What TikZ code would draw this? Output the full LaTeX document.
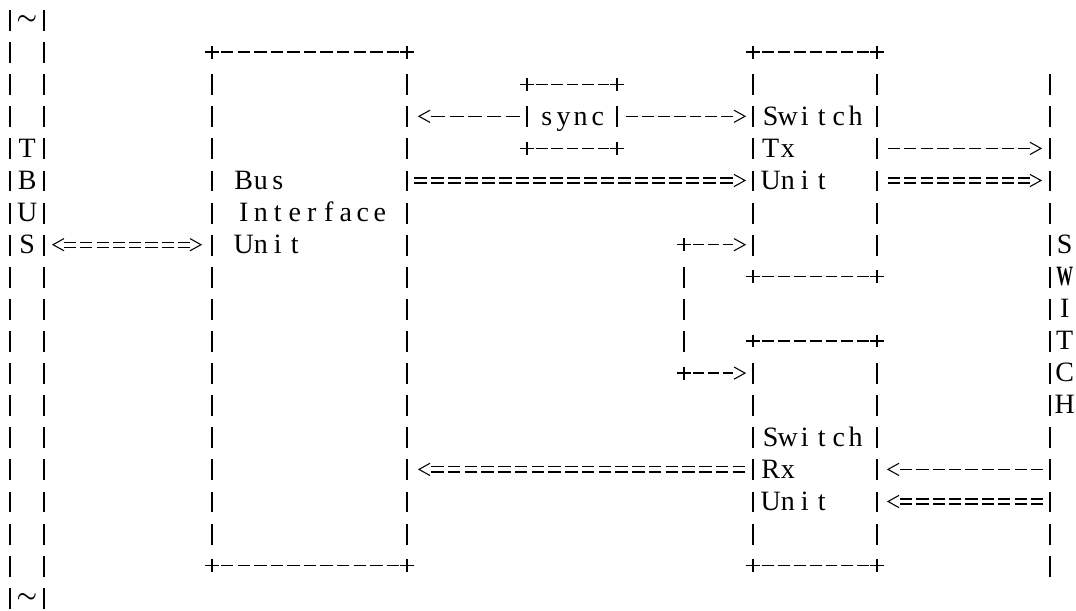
\documentclass[tikz,border=0pt]{standalone}
\usepackage{fontspec}
\usepackage{graphicx}
\setmainfont{Liberation Serif}
\usetikzlibrary{positioning}

% one character cell of the typed picture
\newlength\cellw \setlength\cellw{12.75pt}
\makeatletter
\newcommand\spaced[1]{\spaced@#1\relax}
\def\spaced@#1{\ifx#1\relax\else\makebox[\cellw][c]{#1}\expandafter\spaced@\fi}
\makeatother

\tikzset{
  bar/.style={line width=1.3pt},
  dashes/.style={line width=0.9pt},
  tip/.style={line width=0.8pt},
  word/.style={inner sep=0pt, anchor=base west, font=\fontsize{21}{21}\selectfont},
  tilde/.style={inner sep=0pt, font=\fontsize{18}{18}\selectfont\boldmath},
  plus/.pic={\draw[line width=0.9pt] (-7,0) -- (7,0) (0,-0.2) -- (0,0.2);},
  gt/.pic={\draw[tip] (-11,-0.19) -- (0,0) -- (-11,0.19);},
  lt/.pic={\draw[tip] (11,-0.19) -- (0,0) -- (11,0.19);},
}

\newcommand\vrun[3]{%
  \pgfmathtruncatemacro\rfirst{#2}\pgfmathtruncatemacro\rlast{#3}%
  \foreach \r in {\rfirst,...,\rlast} \draw[bar] (#1,\r-0.31) -- (#1,\r+0.34);}
% whole dashes between two x positions
\newcommand\dashfit[2]{%
  \pgfmathsetmacro\runn{max(1,round(((#2)-(#1)+4.25)/17))}%
  \pgfmathsetmacro\don{0.5625*((#2)-(#1)+4.25)/\runn}%
  \pgfmathsetmacro\doff{0.1875*((#2)-(#1)+4.25)/\runn}}
\newcommand\hrun[3]{\dashfit{#1}{#2}%
  \draw[dashes, dash pattern=on \don pt off \doff pt] (#1,#3) -- (#2,#3);}
\newcommand\erun[3]{\dashfit{#1}{#2}%
  \draw[dashes, dash pattern=on \don pt off \doff pt]
    (#1,#3-0.078) -- (#2,#3-0.078) (#1,#3+0.078) -- (#2,#3+0.078);}
\newcommand\asciibox[4]{%
  \pic at (#1,#3) {plus}; \pic at (#2,#3) {plus};
  \pic at (#1,#4) {plus}; \pic at (#2,#4) {plus};
  \hrun{#1+9}{#2-8}{#3} \hrun{#1+9}{#2-8}{#4}
  \vrun{#1}{#3+1}{#4-1} \vrun{#2}{#3+1}{#4-1}}

\begin{document}
\begin{tikzpicture}[x=0.75pt, y=-24.075pt]
  \useasboundingbox (0,-0.623) rectangle (1076,18.411);

  % T BUS
  \vrun{10}{0}{18}
  \vrun{44}{0}{18}
  \node[tilde] (tilde top) at (27,0) {$\sim$};
  \node[tilde] (tilde bottom) at (27,18) {$\sim$};
  \foreach \l [count=\i from 4] in {T,B,U,S}
    \node[word] (tbus \i) at (18.5,\i+0.274) {\spaced{\l}};
  \pic at (53,7) {lt};
  \erun{64}{190}{7}
  \pic at (201,7) {gt};

  % bus interface unit
  \asciibox{212}{407}{1}{17}
  \node[word] (biu bus) at (235,5.274) {\spaced{Bus}};
  \node[word] (biu interface) at (235,6.274) {\spaced{Interface}};
  \node[word] (biu unit) at (235,7.274) {\spaced{Unit}};

  % sync
  \asciibox{527}{617}{2}{4}
  \node[word] (sync) at (538,3.274) {\spaced{sync}};
  \pic at (419,3) {lt};
  \hrun{431}{520}{3}
  \hrun{626}{733}{3}
  \pic at (745,3) {gt};

  % switch tx unit
  \asciibox{753}{877}{1}{8}
  \node[word] (tx switch) at (762,3.274) {\spaced{Switch}};
  \node[word] (tx tx) at (762,4.274) {\spaced{Tx}};
  \node[word] (tx unit) at (762,5.274) {\spaced{Unit}};
  \erun{414}{733}{5}
  \pic at (745,5) {gt};
  \hrun{888}{1030}{4}
  \pic at (1041,4) {gt};
  \erun{888}{1030}{5}
  \pic at (1041,5) {gt};

  % switch rx unit
  \asciibox{753}{877}{10}{17}
  \node[word] (rx switch) at (762,13.274) {\spaced{Switch}};
  \node[word] (rx rx) at (762,14.274) {\spaced{Rx}};
  \node[word] (rx unit) at (762,15.274) {\spaced{Unit}};
  \pic at (419,14) {lt};
  \erun{431}{745}{14}
  \pic at (888,14) {lt};
  \hrun{900}{1043}{14}
  \pic at (888,15) {lt};
  \erun{900}{1043}{15}

  % fork to both units
  \pic at (684,7) {plus};
  \vrun{684}{8}{10}
  \pic at (684,11) {plus};
  \hrun{693}{733}{7}
  \pic at (745,7) {gt};
  \hrun{693}{733}{11}
  \pic at (745,11) {gt};

  % SWITCH
  \vrun{1050}{2}{17}
  \foreach \l [count=\i from 7] in {S,\scalebox{0.6}[1]{\bfseries W},I,T,C,H}
    \node[word] (switch \i) at (1056,\i+0.274) {\spaced{\l}};
\end{tikzpicture}
\end{document}
